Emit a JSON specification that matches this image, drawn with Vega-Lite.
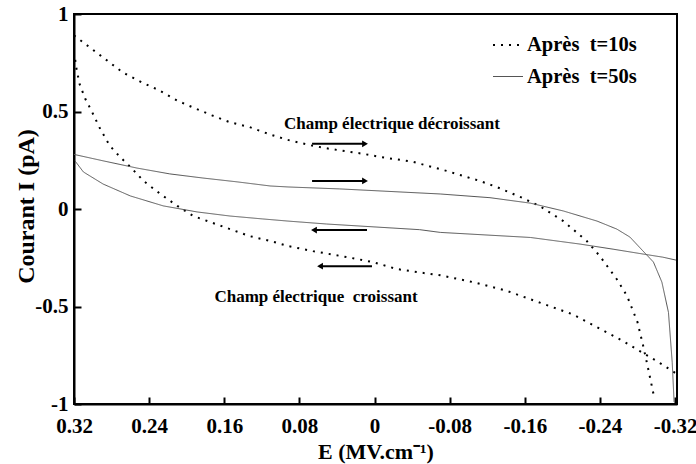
{
  "$schema": "https://vega.github.io/schema/vega-lite/v6.json",
  "autosize": "none",
  "width": 603,
  "height": 390,
  "padding": {"left": 74, "top": 14, "right": 19, "bottom": 60},
  "background": "white",
  "config": {
    "view": {"stroke": "black", "strokeWidth": 2},
    "axis": {
      "grid": false,
      "domainColor": "black",
      "domainWidth": 2,
      "tickColor": "black",
      "tickWidth": 2,
      "tickSize": -7,
      "labelFlush": false,
      "labelOverlap": false,
      "labelFont": "Liberation Serif, Times New Roman, serif",
      "labelFontWeight": "bold",
      "labelFontSize": 21,
      "labelColor": "black",
      "titleFont": "Liberation Serif, Times New Roman, serif",
      "titleFontWeight": "bold",
      "titleColor": "black"
    }
  },
  "datasets": {
    "curves": [
      {"series": "Après\u00a0 t=10s", "branch": "d10", "i": 1, "E": 0.32, "I": 0.89},
      {"series": "Après\u00a0 t=10s", "branch": "d10", "i": 2, "E": 0.292, "I": 0.788},
      {"series": "Après\u00a0 t=10s", "branch": "d10", "i": 3, "E": 0.268, "I": 0.70},
      {"series": "Après\u00a0 t=10s", "branch": "d10", "i": 4, "E": 0.248, "I": 0.65},
      {"series": "Après\u00a0 t=10s", "branch": "d10", "i": 5, "E": 0.230, "I": 0.61},
      {"series": "Après\u00a0 t=10s", "branch": "d10", "i": 6, "E": 0.210, "I": 0.556},
      {"series": "Après\u00a0 t=10s", "branch": "d10", "i": 7, "E": 0.193, "I": 0.52},
      {"series": "Après\u00a0 t=10s", "branch": "d10", "i": 8, "E": 0.173, "I": 0.48},
      {"series": "Après\u00a0 t=10s", "branch": "d10", "i": 9, "E": 0.154, "I": 0.445},
      {"series": "Après\u00a0 t=10s", "branch": "d10", "i": 10, "E": 0.133, "I": 0.42},
      {"series": "Après\u00a0 t=10s", "branch": "d10", "i": 11, "E": 0.113, "I": 0.385},
      {"series": "Après\u00a0 t=10s", "branch": "d10", "i": 12, "E": 0.093, "I": 0.355},
      {"series": "Après\u00a0 t=10s", "branch": "d10", "i": 13, "E": 0.0655, "I": 0.324},
      {"series": "Après\u00a0 t=10s", "branch": "d10", "i": 14, "E": 0.047, "I": 0.308},
      {"series": "Après\u00a0 t=10s", "branch": "d10", "i": 15, "E": 0.012, "I": 0.283},
      {"series": "Après\u00a0 t=10s", "branch": "d10", "i": 16, "E": -0.006, "I": 0.267},
      {"series": "Après\u00a0 t=10s", "branch": "d10", "i": 17, "E": -0.041, "I": 0.242},
      {"series": "Après\u00a0 t=10s", "branch": "d10", "i": 18, "E": -0.077, "I": 0.195},
      {"series": "Après\u00a0 t=10s", "branch": "d10", "i": 19, "E": -0.112, "I": 0.144},
      {"series": "Après\u00a0 t=10s", "branch": "d10", "i": 20, "E": -0.130, "I": 0.113},
      {"series": "Après\u00a0 t=10s", "branch": "d10", "i": 21, "E": -0.155, "I": 0.062},
      {"series": "Après\u00a0 t=10s", "branch": "d10", "i": 22, "E": -0.176, "I": 0.015},
      {"series": "Après\u00a0 t=10s", "branch": "d10", "i": 23, "E": -0.201, "I": -0.062},
      {"series": "Après\u00a0 t=10s", "branch": "d10", "i": 24, "E": -0.226, "I": -0.164},
      {"series": "Après\u00a0 t=10s", "branch": "d10", "i": 25, "E": -0.240, "I": -0.242},
      {"series": "Après\u00a0 t=10s", "branch": "d10", "i": 26, "E": -0.258, "I": -0.36},
      {"series": "Après\u00a0 t=10s", "branch": "d10", "i": 27, "E": -0.269, "I": -0.447},
      {"series": "Après\u00a0 t=10s", "branch": "d10", "i": 28, "E": -0.280, "I": -0.58},
      {"series": "Après\u00a0 t=10s", "branch": "d10", "i": 29, "E": -0.286, "I": -0.70},
      {"series": "Après\u00a0 t=10s", "branch": "d10", "i": 30, "E": -0.291, "I": -0.81},
      {"series": "Après\u00a0 t=10s", "branch": "d10", "i": 31, "E": -0.298, "I": -0.97},

      {"series": "Après\u00a0 t=10s", "branch": "c10", "i": 1, "E": -0.320, "I": -0.84},
      {"series": "Après\u00a0 t=10s", "branch": "c10", "i": 2, "E": -0.304, "I": -0.79},
      {"series": "Après\u00a0 t=10s", "branch": "c10", "i": 3, "E": -0.283, "I": -0.73},
      {"series": "Après\u00a0 t=10s", "branch": "c10", "i": 4, "E": -0.265, "I": -0.678},
      {"series": "Après\u00a0 t=10s", "branch": "c10", "i": 5, "E": -0.237, "I": -0.606},
      {"series": "Après\u00a0 t=10s", "branch": "c10", "i": 6, "E": -0.211, "I": -0.54},
      {"series": "Après\u00a0 t=10s", "branch": "c10", "i": 7, "E": -0.176, "I": -0.48},
      {"series": "Après\u00a0 t=10s", "branch": "c10", "i": 8, "E": -0.141, "I": -0.42},
      {"series": "Après\u00a0 t=10s", "branch": "c10", "i": 9, "E": -0.105, "I": -0.375},
      {"series": "Après\u00a0 t=10s", "branch": "c10", "i": 10, "E": -0.070, "I": -0.34},
      {"series": "Après\u00a0 t=10s", "branch": "c10", "i": 11, "E": -0.046, "I": -0.324},
      {"series": "Après\u00a0 t=10s", "branch": "c10", "i": 12, "E": -0.024, "I": -0.308},
      {"series": "Après\u00a0 t=10s", "branch": "c10", "i": 13, "E": 0.002, "I": -0.272},
      {"series": "Après\u00a0 t=10s", "branch": "c10", "i": 14, "E": 0.029, "I": -0.247},
      {"series": "Après\u00a0 t=10s", "branch": "c10", "i": 15, "E": 0.0655, "I": -0.216},
      {"series": "Après\u00a0 t=10s", "branch": "c10", "i": 16, "E": 0.092, "I": -0.19},
      {"series": "Après\u00a0 t=10s", "branch": "c10", "i": 17, "E": 0.111, "I": -0.164},
      {"series": "Après\u00a0 t=10s", "branch": "c10", "i": 18, "E": 0.133, "I": -0.139},
      {"series": "Après\u00a0 t=10s", "branch": "c10", "i": 19, "E": 0.154, "I": -0.103},
      {"series": "Après\u00a0 t=10s", "branch": "c10", "i": 20, "E": 0.175, "I": -0.067},
      {"series": "Après\u00a0 t=10s", "branch": "c10", "i": 21, "E": 0.193, "I": -0.036},
      {"series": "Après\u00a0 t=10s", "branch": "c10", "i": 22, "E": 0.210, "I": 0.016},
      {"series": "Après\u00a0 t=10s", "branch": "c10", "i": 23, "E": 0.228, "I": 0.077},
      {"series": "Après\u00a0 t=10s", "branch": "c10", "i": 24, "E": 0.246, "I": 0.144},
      {"series": "Après\u00a0 t=10s", "branch": "c10", "i": 25, "E": 0.260, "I": 0.216},
      {"series": "Après\u00a0 t=10s", "branch": "c10", "i": 26, "E": 0.271, "I": 0.267},
      {"series": "Après\u00a0 t=10s", "branch": "c10", "i": 27, "E": 0.282, "I": 0.325},
      {"series": "Après\u00a0 t=10s", "branch": "c10", "i": 28, "E": 0.292, "I": 0.41},
      {"series": "Après\u00a0 t=10s", "branch": "c10", "i": 29, "E": 0.301, "I": 0.50},
      {"series": "Après\u00a0 t=10s", "branch": "c10", "i": 30, "E": 0.308, "I": 0.565},
      {"series": "Après\u00a0 t=10s", "branch": "c10", "i": 31, "E": 0.314, "I": 0.64},
      {"series": "Après\u00a0 t=10s", "branch": "c10", "i": 32, "E": 0.318, "I": 0.735},
      {"series": "Après\u00a0 t=10s", "branch": "c10", "i": 33, "E": 0.319, "I": 0.78},

      {"series": "Après\u00a0 t=50s", "branch": "d50", "i": 1, "E": 0.32, "I": 0.28},
      {"series": "Après\u00a0 t=50s", "branch": "d50", "i": 2, "E": 0.289, "I": 0.247},
      {"series": "Après\u00a0 t=50s", "branch": "d50", "i": 3, "E": 0.253, "I": 0.21},
      {"series": "Après\u00a0 t=50s", "branch": "d50", "i": 4, "E": 0.218, "I": 0.18},
      {"series": "Après\u00a0 t=50s", "branch": "d50", "i": 5, "E": 0.183, "I": 0.159},
      {"series": "Après\u00a0 t=50s", "branch": "d50", "i": 6, "E": 0.146, "I": 0.139},
      {"series": "Après\u00a0 t=50s", "branch": "d50", "i": 7, "E": 0.111, "I": 0.118},
      {"series": "Après\u00a0 t=50s", "branch": "d50", "i": 8, "E": 0.092, "I": 0.113},
      {"series": "Après\u00a0 t=50s", "branch": "d50", "i": 9, "E": 0.037, "I": 0.103},
      {"series": "Après\u00a0 t=50s", "branch": "d50", "i": 10, "E": -0.070, "I": 0.077},
      {"series": "Après\u00a0 t=50s", "branch": "d50", "i": 11, "E": -0.123, "I": 0.058},
      {"series": "Après\u00a0 t=50s", "branch": "d50", "i": 12, "E": -0.166, "I": 0.03},
      {"series": "Après\u00a0 t=50s", "branch": "d50", "i": 13, "E": -0.201, "I": -0.01},
      {"series": "Après\u00a0 t=50s", "branch": "d50", "i": 14, "E": -0.237, "I": -0.062},
      {"series": "Après\u00a0 t=50s", "branch": "d50", "i": 15, "E": -0.258, "I": -0.103},
      {"series": "Après\u00a0 t=50s", "branch": "d50", "i": 16, "E": -0.272, "I": -0.144},
      {"series": "Après\u00a0 t=50s", "branch": "d50", "i": 17, "E": -0.286, "I": -0.216},
      {"series": "Après\u00a0 t=50s", "branch": "d50", "i": 18, "E": -0.297, "I": -0.272},
      {"series": "Après\u00a0 t=50s", "branch": "d50", "i": 19, "E": -0.306, "I": -0.375},
      {"series": "Après\u00a0 t=50s", "branch": "d50", "i": 20, "E": -0.313, "I": -0.53},
      {"series": "Après\u00a0 t=50s", "branch": "d50", "i": 21, "E": -0.317, "I": -0.786},
      {"series": "Après\u00a0 t=50s", "branch": "d50", "i": 22, "E": -0.319, "I": -0.99},

      {"series": "Après\u00a0 t=50s", "branch": "c50", "i": 1, "E": -0.321, "I": -0.262},
      {"series": "Après\u00a0 t=50s", "branch": "c50", "i": 2, "E": -0.307, "I": -0.247},
      {"series": "Après\u00a0 t=50s", "branch": "c50", "i": 3, "E": -0.286, "I": -0.231},
      {"series": "Après\u00a0 t=50s", "branch": "c50", "i": 4, "E": -0.254, "I": -0.206},
      {"series": "Après\u00a0 t=50s", "branch": "c50", "i": 5, "E": -0.219, "I": -0.18},
      {"series": "Après\u00a0 t=50s", "branch": "c50", "i": 6, "E": -0.166, "I": -0.146},
      {"series": "Après\u00a0 t=50s", "branch": "c50", "i": 7, "E": -0.070, "I": -0.12},
      {"series": "Après\u00a0 t=50s", "branch": "c50", "i": 8, "E": -0.048, "I": -0.106},
      {"series": "Après\u00a0 t=50s", "branch": "c50", "i": 9, "E": 0.051, "I": -0.077},
      {"series": "Après\u00a0 t=50s", "branch": "c50", "i": 10, "E": 0.092, "I": -0.062},
      {"series": "Après\u00a0 t=50s", "branch": "c50", "i": 11, "E": 0.119, "I": -0.051},
      {"series": "Après\u00a0 t=50s", "branch": "c50", "i": 12, "E": 0.154, "I": -0.036},
      {"series": "Après\u00a0 t=50s", "branch": "c50", "i": 13, "E": 0.189, "I": -0.015},
      {"series": "Après\u00a0 t=50s", "branch": "c50", "i": 14, "E": 0.225, "I": 0.016},
      {"series": "Après\u00a0 t=50s", "branch": "c50", "i": 15, "E": 0.260, "I": 0.067},
      {"series": "Après\u00a0 t=50s", "branch": "c50", "i": 16, "E": 0.289, "I": 0.128},
      {"series": "Après\u00a0 t=50s", "branch": "c50", "i": 17, "E": 0.310, "I": 0.19},
      {"series": "Après\u00a0 t=50s", "branch": "c50", "i": 18, "E": 0.319, "I": 0.247}
    ],
    "arrows": [
      {"tail": 0.0665, "head": 0.0101, "I": 0.334, "shape": "triangle-right"},
      {"tail": 0.0665, "head": 0.0101, "I": 0.144, "shape": "triangle-right"},
      {"tail": 0.008, "head": 0.0645, "I": -0.108, "shape": "triangle-left"},
      {"tail": 0.0027, "head": 0.058, "I": -0.293, "shape": "triangle-left"}
    ],
    "labels": [
      {"E": -0.0186, "I": 0.437, "text": "Champ électrique décroissant"},
      {"E": 0.0623, "I": -0.452, "text": "Champ électrique\u00a0 croissant"}
    ]
  },
  "layer": [
    {
      "data": {"name": "curves"},
      "mark": {"type": "line", "strokeCap": "butt"},
      "encoding": {
        "x": {
          "field": "E", "type": "quantitative",
          "scale": {"domain": [0.32, -0.3221], "nice": false, "zero": false},
          "axis": {
            "values": [0.32, 0.24, 0.16, 0.08, 0, -0.08, -0.16, -0.24, -0.32],
            "labelExpr": "toString(datum.value)",
            "title": "E (MV.cm⁻¹)",
            "titleFontSize": 22,
            "labelPadding": 18,
            "titleBaseline": "middle",
            "titleY": 47
          }
        },
        "y": {
          "field": "I", "type": "quantitative",
          "scale": {"domain": [-1, 1], "nice": false, "zero": false},
          "axis": {
            "values": [-1, -0.5, 0, 0.5, 1],
            "labelExpr": "toString(datum.value)",
            "title": "Courant I (pA)",
            "titleFontSize": 24,
            "labelPadding": 13,
            "titleBaseline": "middle",
            "titleX": -48,
            "titleY": 192
          }
        },
        "detail": {"field": "branch"},
        "order": {"field": "i", "type": "quantitative"},
        "color": {
          "field": "series", "type": "nominal",
          "scale": {"domain": ["Après\u00a0 t=10s", "Après\u00a0 t=50s"], "range": ["#000000", "#555555"]},
          "legend": {
            "title": null,
            "orient": "none",
            "legendX": 418,
            "legendY": 15,
            "symbolType": "stroke",
            "symbolSize": 900,
            "symbolStrokeWidth": 1.5,
            "labelFont": "Liberation Serif, Times New Roman, serif",
            "labelFontWeight": "bold",
            "labelFontSize": 20.5,
            "labelColor": "black",
            "rowPadding": 5,
            "labelOffset": 3
          }
        },
        "strokeDash": {
          "field": "series", "type": "nominal",
          "scale": {"domain": ["Après\u00a0 t=10s", "Après\u00a0 t=50s"], "range": [[2, 6], [1, 0]]}
        },
        "strokeWidth": {
          "field": "series", "type": "nominal",
          "scale": {"domain": ["Après\u00a0 t=10s", "Après\u00a0 t=50s"], "range": [2, 1]}
        }
      }
    },
    {
      "data": {"name": "arrows"},
      "mark": {"type": "rule", "color": "black", "strokeWidth": 2},
      "encoding": {
        "x": {"field": "tail", "type": "quantitative"},
        "x2": {"field": "head"},
        "y": {"field": "I", "type": "quantitative"}
      }
    },
    {
      "data": {"name": "arrows"},
      "mark": {"type": "point", "filled": true, "color": "black", "opacity": 1, "size": 45},
      "encoding": {
        "x": {"field": "head", "type": "quantitative"},
        "y": {"field": "I", "type": "quantitative"},
        "shape": {"field": "shape", "type": "nominal", "scale": null}
      }
    },
    {
      "data": {"name": "labels"},
      "mark": {"type": "text", "font": "Liberation Serif, Times New Roman, serif", "fontWeight": "bold", "fontSize": 17, "color": "black", "align": "center", "baseline": "middle"},
      "encoding": {
        "x": {"field": "E", "type": "quantitative"},
        "y": {"field": "I", "type": "quantitative"},
        "text": {"field": "text"}
      }
    }
  ]
}
